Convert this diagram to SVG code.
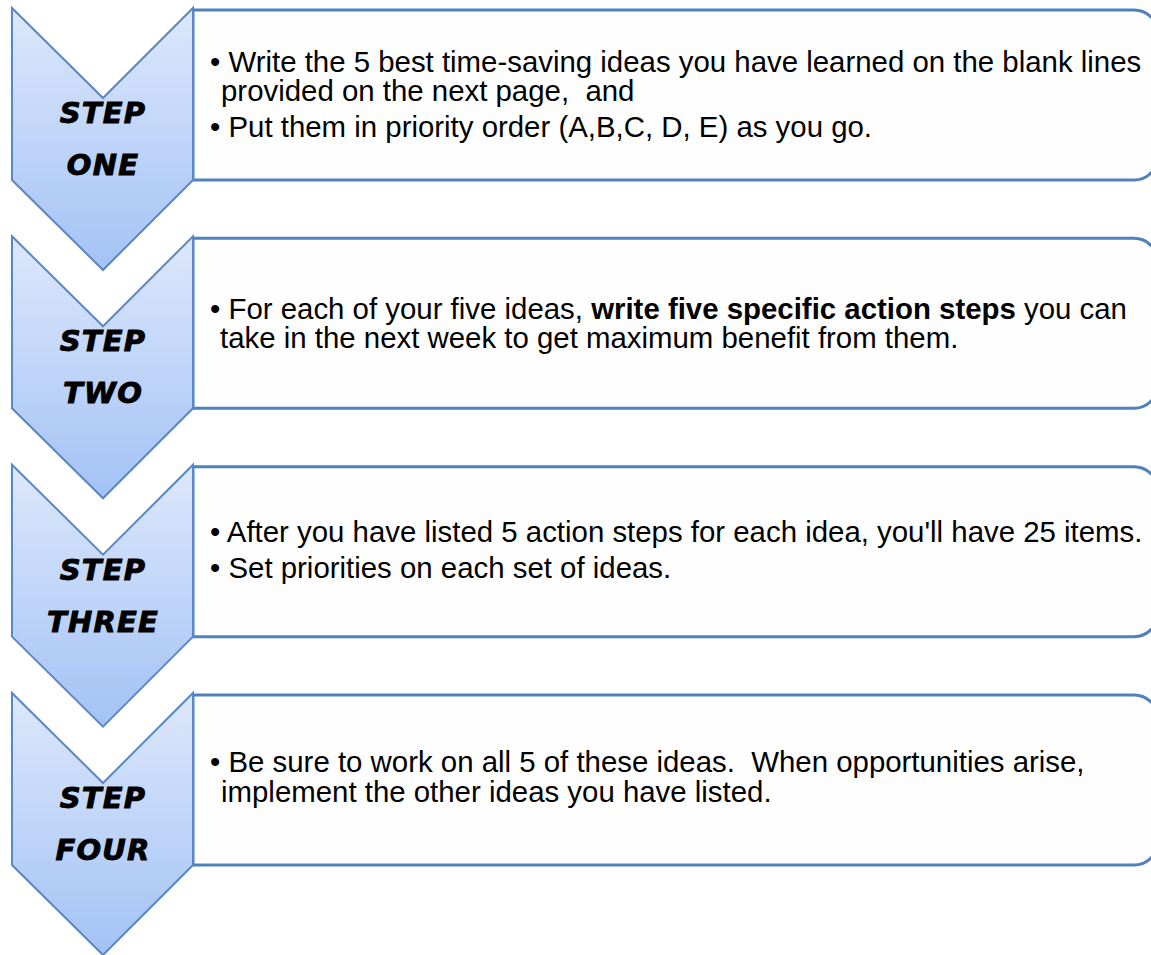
<svg xmlns="http://www.w3.org/2000/svg" width="1151" height="955" viewBox="0 0 1151 955">
<defs>
<linearGradient id="chev" x1="0" y1="0" x2="0" y2="1">
<stop offset="0" stop-color="#dde8fb"/>
<stop offset="1" stop-color="#a3c2f5"/>
</linearGradient>
<path id="chevShape" d="M12,8 L103,98 L193,8 L193,180 L103,270 L12,180 Z"/>
<path id="boxShape" d="M193,10 H1134 A24,24 0 0 1 1158,34 V156 A24,24 0 0 1 1134,180 H193 Z"/>
</defs>
<style>
.box{fill:#fefefe;stroke:#4f81bd;stroke-width:3}
.chev{fill:url(#chev);stroke:#5a87c5;stroke-width:2;stroke-linejoin:miter}
.lbl{font-family:"DejaVu Sans",sans-serif;font-weight:bold;font-style:italic;font-size:29px;letter-spacing:1.2px;fill:#000;stroke:#000;stroke-width:0.9px;text-anchor:middle}
.txt{font-family:"Liberation Sans",Arial,sans-serif;font-size:29.4px;fill:#000}
.b{font-weight:bold}
</style>
<rect width="1151" height="955" fill="#ffffff"/>
<g id="step1">
<use href="#boxShape" class="box"/>
<use href="#chevShape" class="chev"/>
<text class="lbl" x="103" y="123">STEP</text>
<text class="lbl" x="103" y="175">ONE</text>
<text class="txt" x="210" y="72">• Write the 5 best time-saving ideas you have learned on the blank lines</text>
<text class="txt" x="221" y="101" xml:space="preserve">provided on the next page,  and</text>
<text class="txt" x="210" y="137">• Put them in priority order (A,B,C, D, E) as you go.</text>
</g>
<g id="step2" transform="translate(0,228.3)">
<use href="#boxShape" class="box"/>
<use href="#chevShape" class="chev"/>
<text class="lbl" x="103" y="123">STEP</text>
<text class="lbl" x="103" y="175">TWO</text>
<text class="txt" x="210" y="90.7" xml:space="preserve">• For each of your five ideas, <tspan class="b">write five specific action steps</tspan> you can</text>
<text class="txt" x="220" y="119.7">take in the next week to get maximum benefit from them.</text>
</g>
<g id="step3" transform="translate(0,456.7)">
<use href="#boxShape" class="box"/>
<use href="#chevShape" class="chev"/>
<text class="lbl" x="103" y="123">STEP</text>
<text class="lbl" x="103" y="175">THREE</text>
<text class="txt" x="210" y="85">• After you have listed 5 action steps for each idea, you'll have 25 items.</text>
<text class="txt" x="210" y="121">• Set priorities on each set of ideas.</text>
</g>
<g id="step4" transform="translate(0,685)">
<use href="#boxShape" class="box"/>
<use href="#chevShape" class="chev"/>
<text class="lbl" x="103" y="123">STEP</text>
<text class="lbl" x="103" y="175">FOUR</text>
<text class="txt" x="210" y="87" xml:space="preserve">• Be sure to work on all 5 of these ideas.  When opportunities arise,</text>
<text class="txt" x="221" y="117">implement the other ideas you have listed.</text>
</g>
<g id="connectors"></g>
</svg>
